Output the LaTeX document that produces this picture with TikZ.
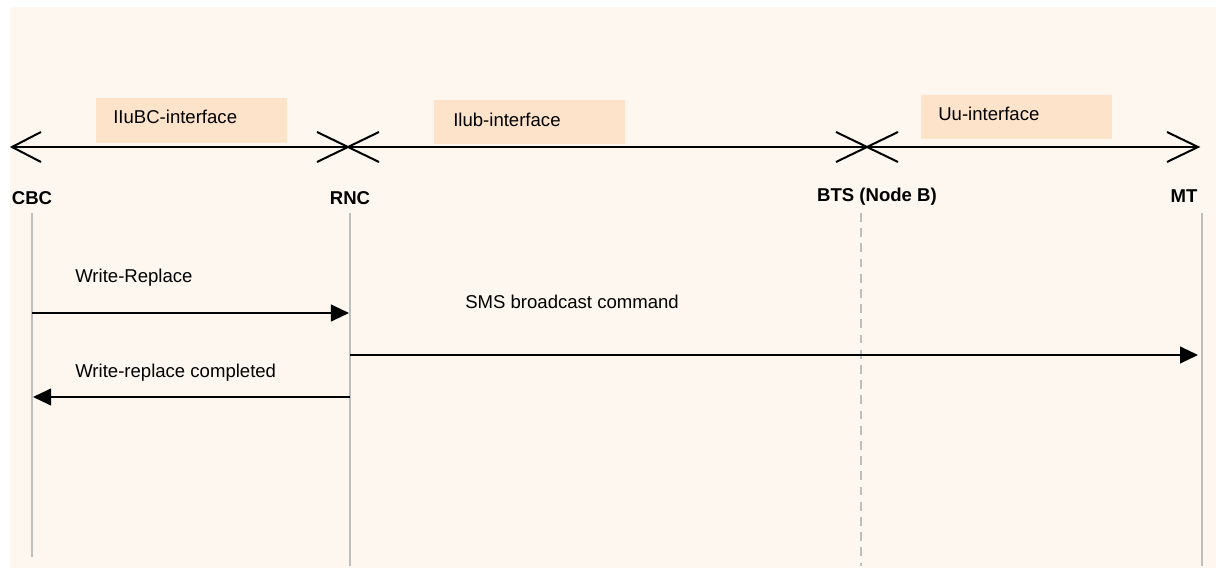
\documentclass[tikz,border=0pt]{standalone}
\usepackage{fontspec}
\setmainfont{Liberation Sans}
\usepackage{tikz}
\usetikzlibrary{arrows.meta}
\usetikzlibrary{positioning}
\usetikzlibrary{calc}
\definecolor{paper}{RGB}{253,247,240}
\definecolor{peach}{RGB}{253,227,201}
\definecolor{lifegray}{RGB}{190,190,190}
\tikzstyle{label} = [font = \fontsize{13.2}{15}\selectfont, inner sep = 0pt]
\tikzstyle{entity} = [font = \fontsize{13.2}{15}\selectfont\bfseries, inner sep = 0pt]
\tikzstyle{ifbox} = [fill = peach, inner sep = 0pt]
\tikzstyle{lifeline} = [draw = lifegray, line width = 0.05cm]
\tikzstyle{msg} = [line width = 0.04cm, -{Triangle[length = 0.45cm, width = 0.42cm]}]
\tikzstyle{arm} = [line width = 0.05cm]

\begin{document}
\begin{tikzpicture}[x = 0.025cm, y = -0.025cm]

			% Frame and background
			\useasboundingbox (0,0) rectangle (1216,570);
			\fill[paper] (10,7) rectangle (1216,568);

			% Interface label boxes
			\fill[ifbox] (96,98) rectangle (287,143);
			\fill[ifbox] (434,100) rectangle (625,144);
			\fill[ifbox] (921,95) rectangle (1112,139);
			\node[label, anchor = west] (iubc) at (113,117) {IIuBC-interface};
			\node[label, anchor = west] (iub) at (453,120) {Ilub-interface};
			\node[label, anchor = west] (uu) at (938,114) {Uu-interface};

			% Interface line with open heads
			\coordinate (lcbc) at (12,147);
			\coordinate (lrnc) at (348,147);
			\coordinate (lbts) at (867,147);
			\coordinate (lmt) at (1198,147);
			\draw[line width = 0.05cm] (lcbc) -- (lrnc);
			\draw[line width = 0.03cm] (lrnc) -- (lbts) -- (lmt);
			\draw[arm] ($(lcbc) + (29,-15)$) -- (lcbc) -- ($(lcbc) + (29,15)$);
			\draw[arm] ($(lrnc) + (-31,-15)$) -- (lrnc) -- ($(lrnc) + (-31,15)$);
			\draw[arm] ($(lrnc) + (31,-15)$) -- (lrnc) -- ($(lrnc) + (31,15)$);
			\draw[arm] ($(lbts) + (-31,-15)$) -- (lbts) -- ($(lbts) + (-31,15)$);
			\draw[arm] ($(lbts) + (31,-15)$) -- (lbts) -- ($(lbts) + (31,15)$);
			\draw[arm] ($(lmt) + (-31,-15)$) -- (lmt) -- ($(lmt) + (-31,15)$);

			% Entities
			\node[entity] (cbc) at (32,198) {CBC};
			\node[entity] (rnc) at (350,198) {RNC};
			\node[entity] (bts) at (877,197) {BTS (Node B)};
			\node[entity] (mt) at (1184,196) {MT};

			% Lifelines
			\coordinate (cbctop) at (32,213);
			\coordinate (cbcend) at (32,557);
			\coordinate (rnctop) at (350,213);
			\coordinate (rncend) at (350,566);
			\coordinate (btstop) at (861,213);
			\coordinate (btsend) at (861,566);
			\coordinate (mttop) at (1202,213);
			\coordinate (mtend) at (1202,566);
			\draw[lifeline] (cbctop) -- (cbcend);
			\draw[lifeline] (rnctop) -- (rncend);
			\draw[lifeline, dash pattern = on 0.22cm off 0.16cm] (btstop) -- (btsend);
			\draw[lifeline] (mttop) -- (mtend);

			% Messages
			\coordinate (wrs) at (32,313);
			\coordinate (wre) at (349,313);
			\coordinate (sms) at (350,355);
			\coordinate (sme) at (1198,355);
			\coordinate (wcs) at (350,397);
			\coordinate (wce) at (33,397);
			\draw[msg] (wrs) -- (wre);
			\draw[msg] (sms) -- (sme);
			\draw[msg] (wcs) -- (wce);
			\node[label, anchor = west] (wr) at (75,278) {Write-Replace};
			\node[label, anchor = west] (smscmd) at (465,302) {SMS broadcast command};
			\node[label, anchor = west] (wc) at (75,373) {Write-replace completed};

		\end{tikzpicture}
\end{document}
